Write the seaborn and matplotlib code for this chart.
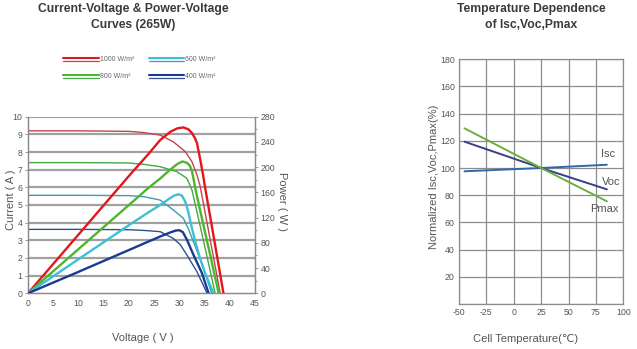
import matplotlib
matplotlib.use("Agg")
import matplotlib.pyplot as plt
from matplotlib.lines import Line2D
from matplotlib.ticker import MultipleLocator
import seaborn as sns

# ---------------- data ----------------
irradiance_labels = ["1000 W/m²", "800 W/m²", "600 W/m²", "400 W/m²"]

# I-V curves (Voltage V, Current A)
iv_v_1000 = [0, 10, 20, 23, 26.2, 28.8, 31.2, 32.5, 33.5, 34.1, 35.0, 36.0, 37.0, 38.1]
iv_i_1000 = [9.2, 9.2, 9.17, 9.1, 8.96, 8.58, 8.02, 7.45, 6.7, 6.1, 4.75, 3.2, 1.7, 0]
iv_v_800 = [0, 10, 20, 23, 26.2, 29.5, 31.5, 32.5, 33.5, 35.0, 37.1]
iv_i_800 = [7.4, 7.4, 7.38, 7.3, 7.17, 6.89, 6.51, 5.85, 4.6, 2.7, 0]
iv_v_600 = [0, 10, 20, 23, 26.2, 28.8, 30.8, 31.8, 32.8, 34.8, 36.4]
iv_i_600 = [5.55, 5.55, 5.53, 5.47, 5.28, 4.72, 4.25, 3.65, 2.92, 1.42, 0]
iv_v_400 = [0, 10, 20, 23, 26.2, 28.8, 30.2, 31.5, 33.5, 35.5]
iv_i_400 = [3.62, 3.62, 3.6, 3.56, 3.49, 3.11, 2.75, 2.17, 1.22, 0]

# P-V curves (Voltage V, Power W)
pv_v_1000 = [0, 10, 20, 24, 26.2, 28.2, 29.6, 30.8, 31.8, 32.5, 33.1, 33.5, 34.1, 34.7, 35.1, 36.5, 38.75]
pv_p_1000 = [0, 93, 186, 222, 243, 256, 261.5, 263, 260, 254, 246, 238, 214, 188, 168, 104, 0]
pv_v_800 = [0, 10, 20, 24, 26.2, 28.2, 29.6, 30.6, 31.5, 32.1, 32.5, 32.8, 33.2, 34.5, 36.0, 37.8]
pv_p_800 = [0, 70, 140, 168, 182, 196, 205, 209, 207, 202, 194, 182, 165, 118, 65, 0]
pv_v_600 = [0, 10, 20, 24, 26.2, 28.0, 29.0, 29.8, 30.5, 31.2, 31.8, 32.5, 33.3, 34.1, 35.2, 36.1, 36.8]
pv_p_600 = [0, 54, 108, 129, 140, 150, 155, 157, 155, 145, 128, 103, 78, 55.5, 30, 13, 0]
pv_v_400 = [0, 10, 20, 24, 26.2, 28.2, 29.3, 30.0, 30.7, 31.5, 32.8, 34.5, 35.8]
pv_p_400 = [0, 34, 68.6, 82.5, 90, 96.5, 99.5, 100, 97, 85, 61, 31.7, 0]

# Temperature dependence
temp_c = [-45, 25, 85]
isc_pct = [97.6, 100, 102.4]
voc_pct = [119.4, 100, 84.3]
pmax_pct = [129.2, 100, 75.5]

# ---------------- style ----------------
sns.set_style("white")
plt.rcParams["font.family"] = ["Liberation Sans", "DejaVu Sans"]
plt.rcParams["axes.unicode_minus"] = False

iv_colors = ["#c0464c", "#45a845", "#3a9db0", "#2f4f92"]
pv_colors = ["#e3161d", "#4cb52c", "#3cc0d6", "#1a3a94"]
grey_txt = "#555555"
tick_fs = 6.3

fig = plt.figure(figsize=(6.37, 3.49), dpi=100)

# ---------------- left chart ----------------
ax = fig.add_axes([28 / 637, 1 - 293.3 / 349, 227 / 637, 176.6 / 349])
ax2 = ax.twinx()

iv_sets = [(iv_v_1000, iv_i_1000), (iv_v_800, iv_i_800), (iv_v_600, iv_i_600), (iv_v_400, iv_i_400)]
pv_sets = [(pv_v_1000, pv_p_1000), (pv_v_800, pv_p_800), (pv_v_600, pv_p_600), (pv_v_400, pv_p_400)]

for (v, i), c in zip(iv_sets, iv_colors):
    sns.lineplot(x=v, y=i, ax=ax, color=c, lw=1.0, sort=False, zorder=3)
for (v, p), c in zip(pv_sets, pv_colors):
    sns.lineplot(x=v, y=p, ax=ax2, color=c, lw=1.7, sort=False, zorder=4)

ax.set_xlim(0, 45)
ax.set_ylim(0, 10)
ax2.set_ylim(0, 280)
ax.set_xticks(range(0, 46, 5))
ax.set_yticks(range(0, 11))
ax2.set_yticks(range(0, 281, 40))
ax2.yaxis.set_minor_locator(MultipleLocator(20))

ax.grid(False)
ax2.grid(False)
for y in range(1, 11):
    ax.axhline(y, color="#a0a0a0", lw=1.6, zorder=1)

for a in (ax, ax2):
    for s in ("left", "right", "bottom"):
        a.spines[s].set_color("#8a8a8a")
        a.spines[s].set_linewidth(0.9)
    a.spines["top"].set_visible(False)
    a.tick_params(colors="#8a8a8a", labelcolor=grey_txt, labelsize=tick_fs,
                  length=2, width=0.6, pad=2)
ax2.tick_params(which="minor", length=1.5, width=0.6, colors="#8a8a8a")

ax.set_xlabel("Voltage ( V )", fontsize=8, color=grey_txt)
ax.xaxis.set_label_coords(0.507, -0.225)
ax.set_ylabel("Current ( A )", fontsize=8, color=grey_txt)
ax.yaxis.set_label_coords(-0.053, 0.528)
ax2.set_ylabel("Power ( W )", fontsize=8, color=grey_txt, rotation=270)
ax2.yaxis.set_label_coords(1.141, 0.519)

fig.text(133 / 637, 1 - 17 / 349, "Current-Voltage & Power-Voltage\nCurves (265W)",
         ha="center", va="center", fontsize=8.7, fontweight="bold",
         color="#3a3a3a", linespacing=1.35)

# legend (double lines: P-V over I-V)
leg_pos = [(63, 99, 57.5, 100), (63, 99, 74.5, 100), (149, 184, 57.5, 185), (149, 184, 74.5, 185)]
for lab, (x0, x1, yy, tx), cp, ci in zip(irradiance_labels, leg_pos, pv_colors, iv_colors):
    fig.add_artist(Line2D([x0 / 637, x1 / 637], [1 - yy / 349, 1 - yy / 349],
                          color=cp, lw=1.5, transform=fig.transFigure))
    fig.add_artist(Line2D([x0 / 637, x1 / 637], [1 - (yy + 3.5) / 349, 1 - (yy + 3.5) / 349],
                          color=ci, lw=0.9, transform=fig.transFigure))
    fig.text(tx / 637, 1 - (yy + 1.8) / 349, lab, fontsize=5, color="#666666",
             ha="left", va="center")

# ---------------- right chart ----------------
bx = fig.add_axes([459 / 637, 1 - 303.9 / 349, 164.3 / 637, 244.6 / 349])
sns.lineplot(x=temp_c, y=isc_pct, ax=bx, color="#2f6aa8", lw=1.4, sort=False, zorder=3)
sns.lineplot(x=temp_c, y=voc_pct, ax=bx, color="#3a3c8c", lw=1.4, sort=False, zorder=3)
sns.lineplot(x=temp_c, y=pmax_pct, ax=bx, color="#6cae3e", lw=1.4, sort=False, zorder=3)
bx.set_xlim(-50, 100)
bx.set_ylim(0, 180)
bx.set_xticks(range(-50, 101, 25))
bx.set_yticks(range(0, 181, 20))
bx.set_yticklabels([""] + [str(v) for v in range(20, 181, 20)])
bx.grid(True, color="#8c8c8c", lw=0.9)
bx.set_axisbelow(True)
for s in bx.spines.values():
    s.set_color("#8c8c8c")
    s.set_linewidth(0.9)
bx.tick_params(length=0, labelcolor=grey_txt, labelsize=tick_fs, pad=3)
bx.set_xlabel("Cell Temperature(℃)", fontsize=8, color=grey_txt)
bx.xaxis.set_label_coords(0.408, -0.123)
bx.set_ylabel("Normalized Isc,Voc,Pmax(%)", fontsize=8, color=grey_txt)
bx.yaxis.set_label_coords(-0.121, 0.52)

bx.text(79.6, 110, "Isc", fontsize=8, color=grey_txt, ha="left", va="center")
bx.text(80.5, 90, "Voc", fontsize=8, color=grey_txt, ha="left", va="center")
bx.text(69.5, 70, "Pmax", fontsize=8, color=grey_txt, ha="left", va="center")

fig.text(531 / 637, 1 - 17 / 349, "Temperature Dependence\nof Isc,Voc,Pmax",
         ha="center", va="center", fontsize=8.7, fontweight="bold",
         color="#3a3a3a", linespacing=1.35)

fig.savefig("out.png", dpi=100)
